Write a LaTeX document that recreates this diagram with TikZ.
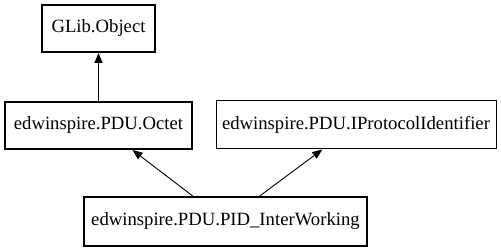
\documentclass[tikz,border=0pt]{standalone}
\usepackage{fontspec}
\setmainfont{Liberation Serif}
\usetikzlibrary{arrows.meta,calc}
\begin{document}
\begin{tikzpicture}[x=1pt,y=-1pt,
  cls/.style={draw,inner sep=0pt,font=\fontsize{18.7}{22}\selectfont},
  thickcls/.style={cls,line width=2pt},
  thincls/.style={cls,line width=1pt},
  inherit/.style={line width=0.9pt,-{Triangle[length=10pt,width=8pt]}}]
\useasboundingbox (0,0) rectangle (501,251);
\node[thickcls,minimum width=113pt,minimum height=47pt] (glib) at (98.5,28.5) {GLib.Object};
\node[thickcls,minimum width=187pt,minimum height=47pt] (octet) at (98.5,125.5) {edwinspire.PDU.Octet};
\node[thincls,minimum width=280pt,minimum height=48pt] (ipi) at (356,125) {edwinspire.PDU.IProtocolIdentifier};
\node[thickcls,minimum width=283pt,minimum height=49pt] (pid) at (225.5,221.5) {edwinspire.PDU.PID\_InterWorking};
\draw[inherit] (octet.north) -- (glib.south);
\draw[inherit] ($(pid.north west)!0.385!(pid.north east)$) -- ($(octet.south west)!0.68!(octet.south east)$);
\draw[inherit] ($(pid.north west)!0.62!(pid.north east)$) -- ($(ipi.south west)!0.38!(ipi.south east)$);
\end{tikzpicture}
\end{document}
